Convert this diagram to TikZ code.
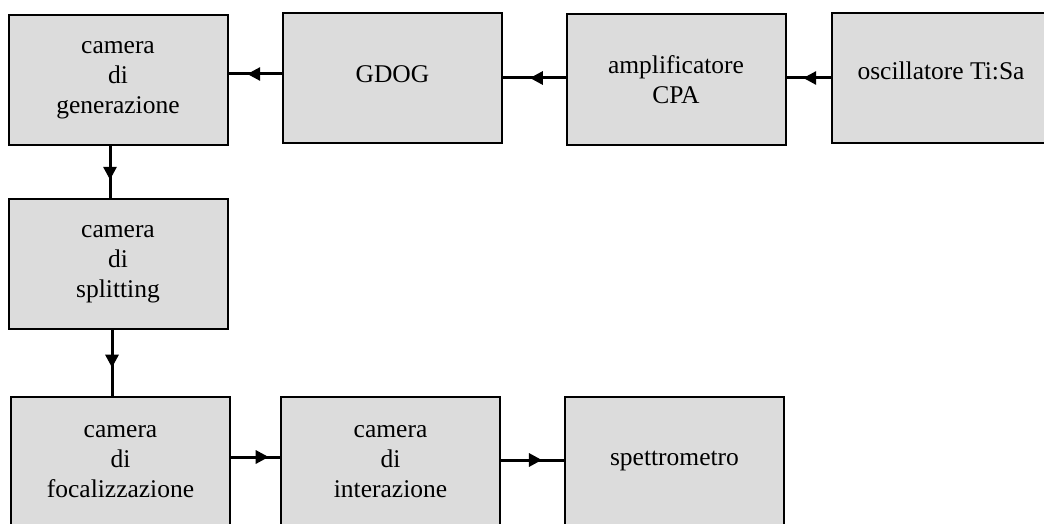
\documentclass[tikz,border=0pt]{standalone}
\usepackage{fontspec}
\setmainfont{Liberation Serif}
\usetikzlibrary{arrows.meta,decorations.markings}
\definecolor{boxgray}{HTML}{DCDCDC}
\begin{document}
\begin{tikzpicture}[x=1pt,y=-1pt,
  box/.style={draw=black, line width=2pt, fill=boxgray, minimum width=219pt,
    minimum height=130pt, inner sep=0pt, align=center,
    font=\fontsize{25.5}{30}\selectfont},
  flowline/.style={line width=3pt, postaction={decorate},
    decoration={markings, mark=at position #1 with {\arrow{Triangle[length=13pt,width=13pt]}}}}]
\useasboundingbox (0,0) rectangle (1044,524);
\clip (0,0) rectangle (1044,524);
\node[box] (gen) at (118,80) {camera\\di\\generazione};
\node[box, text depth=8pt] (gdog) at (392.5,78) {GDOG};
\node[box, minimum height=131pt] (amp) at (676,79.5) {amplificatore\\CPA};
\node[box, text depth=14pt] (osc) at (941,78) {oscillatore Ti:Sa};
\node[box] (split) at (118,264) {camera\\di\\splitting};
\node[box] (focal) at (120.5,462) {camera\\di\\focalizzazione};
\node[box] (inter) at (390.5,462) {camera\\di\\interazione};
\node[box, text depth=8pt] (spec) at (674.5,462) {spettrometro};
\draw[flowline=0.65] (gdog.west |- 0,74) -- (gen.east |- 0,74);
\draw[flowline=0.57] (amp.west |- 0,78) -- (gdog.east |- 0,78);
\draw[flowline=0.62] (osc.west |- 0,78) -- (amp.east |- 0,78);
\draw[flowline=0.65] (gen.south -| 110,0) -- (split.north -| 110,0);
\draw[flowline=0.57] (split.south -| 112,0) -- (focal.north -| 112,0);
\draw[flowline=0.77] (focal.east |- 0,457) -- (inter.west |- 0,457);
\draw[flowline=0.65] (inter.east |- 0,460) -- (spec.west |- 0,460);
\end{tikzpicture}
\end{document}
